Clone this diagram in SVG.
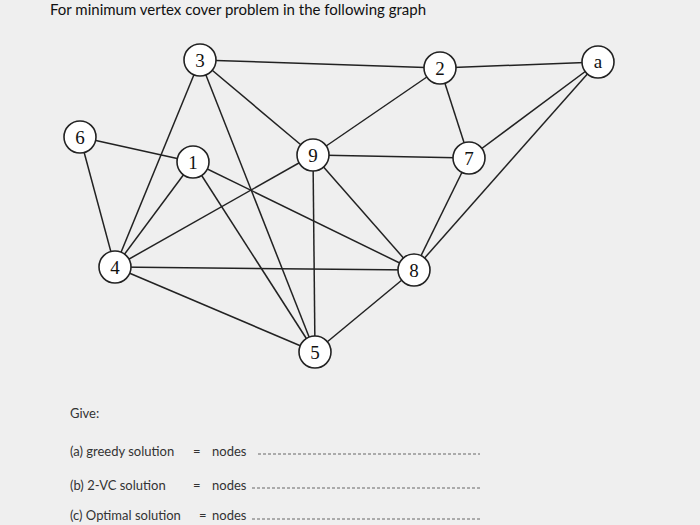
<svg xmlns="http://www.w3.org/2000/svg" width="700" height="525" viewBox="0 0 700 525">
<style>
.e{stroke:#222;stroke-width:1.5;fill:none}
.n circle{fill:#fff;stroke:#222;stroke-width:1.6}
.n text{font-family:"Liberation Serif",serif;font-size:19px;text-anchor:middle;fill:#111}
.t{font-family:"Lato","Liberation Sans",sans-serif;font-size:13px;fill:#333}
.l{stroke:#666;stroke-width:1;stroke-dasharray:3,2}
</style>
<rect width="700" height="525" fill="#efefef"/>
<text x="50" y="15" font-family="Lato,'Liberation Sans',sans-serif" font-size="15" fill="#111">For minimum vertex cover problem in the following graph</text>
<g id="edges">
<line class="e" x1="200" y1="60" x2="440" y2="68"/>
<line class="e" x1="440" y1="68" x2="598" y2="62"/>
<line class="e" x1="200" y1="60" x2="313" y2="155"/>
<line class="e" x1="200" y1="60" x2="115" y2="267"/>
<line class="e" x1="200" y1="60" x2="315" y2="352"/>
<line class="e" x1="80" y1="137" x2="193" y2="162"/>
<line class="e" x1="80" y1="137" x2="115" y2="267"/>
<line class="e" x1="193" y1="162" x2="115" y2="267"/>
<line class="e" x1="193" y1="162" x2="414" y2="270"/>
<line class="e" x1="193" y1="162" x2="315" y2="352"/>
<line class="e" x1="313" y1="155" x2="440" y2="68"/>
<line class="e" x1="313" y1="155" x2="469" y2="158"/>
<line class="e" x1="313" y1="155" x2="414" y2="270"/>
<line class="e" x1="313" y1="155" x2="315" y2="352"/>
<line class="e" x1="313" y1="155" x2="115" y2="267"/>
<line class="e" x1="440" y1="68" x2="469" y2="158"/>
<line class="e" x1="469" y1="158" x2="598" y2="62"/>
<line class="e" x1="469" y1="158" x2="414" y2="270"/>
<line class="e" x1="598" y1="62" x2="414" y2="270"/>
<line class="e" x1="115" y1="267" x2="414" y2="270"/>
<line class="e" x1="115" y1="267" x2="315" y2="352"/>
<line class="e" x1="414" y1="270" x2="315" y2="352"/>
</g>
<g id="n3" class="n"><circle cx="200" cy="60" r="16"/><text x="200" y="67">3</text></g>
<g id="n2" class="n"><circle cx="440" cy="68" r="16"/><text x="440" y="75">2</text></g>
<g id="na" class="n"><circle cx="598" cy="62" r="16"/><text x="598" y="68">a</text></g>
<g id="n6" class="n"><circle cx="80" cy="137" r="16"/><text x="80" y="144">6</text></g>
<g id="n1" class="n"><circle cx="193" cy="162" r="16"/><text x="193" y="169">1</text></g>
<g id="n9" class="n"><circle cx="313" cy="155" r="16"/><text x="313" y="162">9</text></g>
<g id="n7" class="n"><circle cx="469" cy="158" r="16"/><text x="469" y="165">7</text></g>
<g id="n4" class="n"><circle cx="115" cy="267" r="16"/><text x="115" y="274">4</text></g>
<g id="n8" class="n"><circle cx="414" cy="270" r="16"/><text x="414" y="277">8</text></g>
<g id="n5" class="n"><circle cx="315" cy="352" r="16"/><text x="315" y="359">5</text></g>
<text class="t" x="70" y="418">Give:</text>
<text class="t" x="70" y="456">(a) greedy solution</text><text class="t" x="193" y="456">=</text><text class="t" x="212" y="456">nodes</text>
<line class="l" x1="258" y1="454" x2="480" y2="454"/>
<text class="t" x="70" y="490">(b) 2-VC solution</text><text class="t" x="193" y="490">=</text><text class="t" x="212" y="490">nodes</text>
<line class="l" x1="252" y1="488" x2="480" y2="488"/>
<text class="t" x="70" y="520">(c) Optimal solution</text><text class="t" x="199" y="520">=</text><text class="t" x="212" y="520">nodes</text>
<line class="l" x1="252" y1="519" x2="480" y2="519"/>
</svg>
